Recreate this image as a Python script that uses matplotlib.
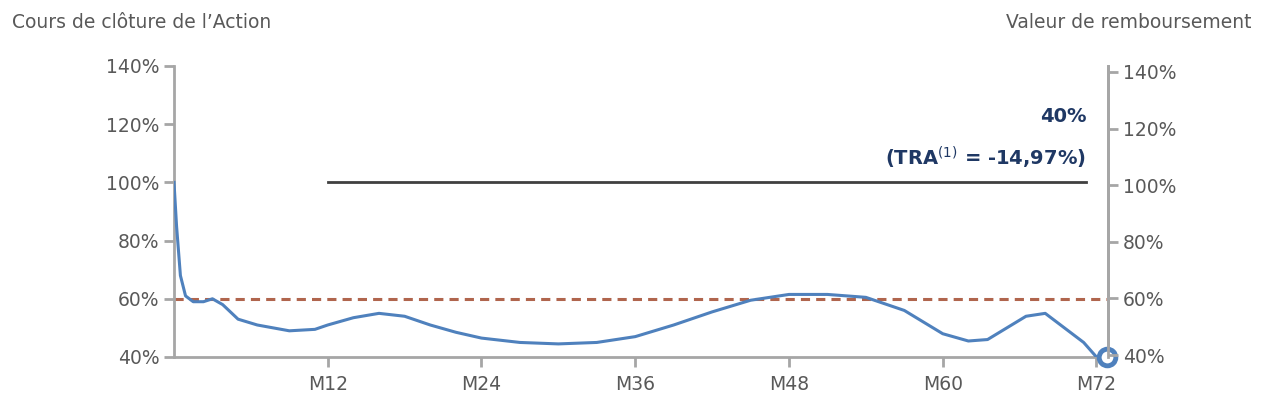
import matplotlib
matplotlib.use("Agg")
import matplotlib.pyplot as plt

months = [0, 0.2, 0.5, 0.9, 1.5, 2.3, 3.0, 3.8, 5, 6.5, 9, 11, 12, 14, 16, 18, 20, 22, 24, 27, 30, 33, 36, 39, 42, 45, 48, 51, 54, 57, 60, 62, 63.5, 65, 66.5, 68, 69.5, 71, 72]
values = [100, 85, 68, 61, 59, 59, 60, 58, 53, 51, 49, 49.5, 51, 53.5, 55, 54, 51, 48.5, 46.5, 45, 44.5, 45, 47, 51, 55.5, 59.5, 61.5, 61.5, 60.5, 56, 48, 45.5, 46, 50, 54, 55, 50, 45, 40]
xticks = [12, 24, 36, 48, 60, 72]
xlabels = ["M12", "M24", "M36", "M48", "M60", "M72"]
yticks = [40, 60, 80, 100, 120, 140]
barrier = 60
ref_level = 100
final_value = 40

grey = "#A6A6A6"
tc = "#595959"
fig = plt.figure(figsize=(12.69, 4.2), dpi=100)
ax = fig.add_axes([174/1269, 1-357/420, (1108-174)/1269, (357-66)/420])
ax.set_xlim(0, 72.9)
ax.set_ylim(40, 140)
ax.plot(months, values, color="#4F81BD", lw=2.2, zorder=3)
ax.axhline(barrier, color="#B0654D", lw=2.2, ls=(0, (3, 2)), zorder=2)
ax.plot([12, 71.2], [ref_level, ref_level], color="#404040", lw=2, zorder=2)
ax.plot([72.8], [final_value], marker="o", ms=12, mfc="white", mec="#4F81BD", mew=3.5, zorder=5, clip_on=False)
ax.text(71.2, 119.5, "40%", ha="right", va="bottom", color="#1F3864", fontsize=14, fontweight="bold")
ax.text(71.2, 104, "(TRA$^{(1)}$ = -14,97%)", ha="right", va="bottom", color="#1F3864", fontsize=14, fontweight="bold")
ax.spines["top"].set_visible(False)
for s in ["left", "right", "bottom"]:
    ax.spines[s].set_color(grey); ax.spines[s].set_linewidth(2)
ax.set_xticks(xticks); ax.set_xticklabels(xlabels)
ax.set_yticks(yticks); ax.set_yticklabels([f"{v}%" for v in yticks])
ax.tick_params(colors=grey, labelcolor=tc, labelsize=13.5, width=2, length=7)
ax.tick_params(axis="x", pad=6)
ax2 = ax.twinx()
ax2.set_ylim(39.3, 142.1)
ax2.set_yticks(yticks); ax2.set_yticklabels([f"{v}%" for v in yticks])
for s in ["top", "left", "bottom"]:
    ax2.spines[s].set_visible(False)
ax2.spines["right"].set_color(grey); ax2.spines["right"].set_linewidth(2)
ax2.tick_params(colors=grey, labelcolor=tc, labelsize=13.5, width=2, length=7)
fig.text(12/1269, 1-22/420, "Cours de clôture de l’Action", color=tc, fontsize=13.5, va="center")
fig.text(1252/1269, 1-22/420, "Valeur de remboursement", color=tc, fontsize=13.5, va="center", ha="right")
fig.savefig("out.png", dpi=100)
